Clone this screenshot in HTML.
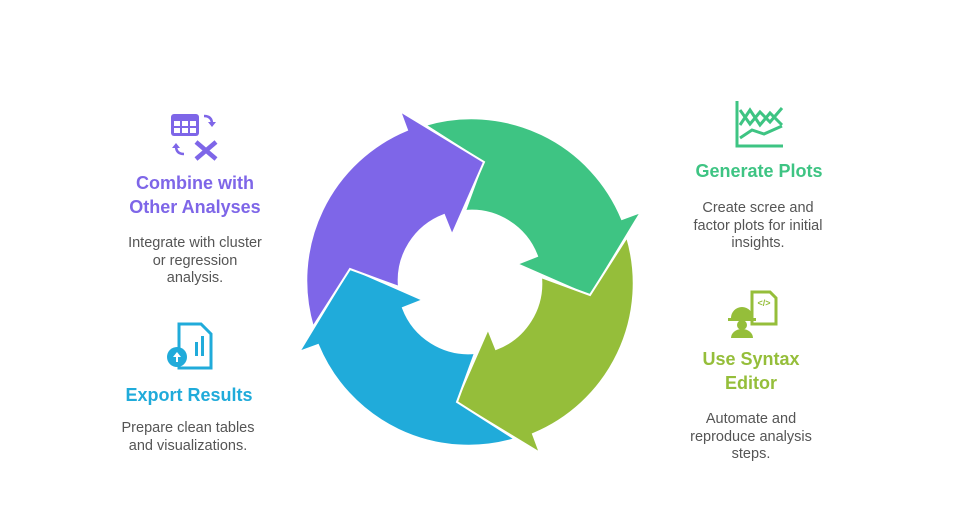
<!DOCTYPE html>
<html><head><meta charset="utf-8"><style>
body{margin:0;background:#fff;width:980px;height:517px;overflow:hidden;position:relative;font-family:"Liberation Sans",sans-serif}
.t{position:absolute;text-align:center;font-weight:bold;font-size:18px;line-height:24px}
.d{position:absolute;text-align:center;font-size:14.5px;line-height:17.5px;color:#555}
</style></head><body>
<svg width="980" height="517" style="position:absolute;left:0;top:0">
<defs><path id="ar" d="M-45,-157 A163,163 0 0 1 152,-63 L171,-70 L120,14 L47,-18 L67,-26 A70,70 0 0 0 -5,-71 L13,-120 Z" stroke="#fff" stroke-width="2" stroke-linejoin="miter"/></defs>
<g transform="translate(470,282)">
<use href="#ar" fill="#3EC483"/>
<use href="#ar" fill="#95BE3A" transform="rotate(90)"/>
<use href="#ar" fill="#20ABDA" transform="rotate(180)"/>
<use href="#ar" fill="#7E66E8" transform="rotate(270)"/>
</g>
<g fill="#7E66E8">
<rect x="171" y="114" width="28" height="22" rx="3"/>
<g fill="#fff"><rect x="174" y="121" width="6" height="5"/><rect x="182" y="121" width="6" height="5"/><rect x="190" y="121" width="6" height="5"/><rect x="174" y="128" width="6" height="5"/><rect x="182" y="128" width="6" height="5"/><rect x="190" y="128" width="6" height="5"/></g>
</g>
<path d="M196,142 l20,17 M216,142 l-20,17" stroke="#7E66E8" stroke-width="4.5"/>
<path d="M204,116 q8,0 8,8" stroke="#7E66E8" stroke-width="2.5" fill="none"/><path d="M208,122 l4,5 l4,-5z" fill="#7E66E8"/>
<path d="M184,154 q-8,0 -8,-8" stroke="#7E66E8" stroke-width="2.5" fill="none"/><path d="M172,148 l4,-5 l4,5z" fill="#7E66E8"/>
<g><path d="M179,324 h22 l10,10 v34 h-32z" fill="none" stroke="#20ABDA" stroke-width="3"/>
<rect x="195" y="342" width="3" height="14" fill="#20ABDA"/><rect x="201" y="336" width="3" height="20" fill="#20ABDA"/>
<circle cx="177" cy="357" r="10" fill="#20ABDA"/><path d="M177,352 l-4,5 h3 v5 h2 v-5 h3z" fill="#fff"/></g>
<g stroke="#3EC483" stroke-width="3" fill="none"><path d="M737,101 v45 h46"/><path d="M740,110 l10,14 l10,-12 l10,10 l12,-14"/><path d="M740,125 l10,-15 l10,15 l10,-12 l12,12"/><path d="M740,138 l12,-8 l12,4 l18,-8"/></g>
<g><path d="M752,292 h18 l6,6 v26 h-24z" fill="none" stroke="#95BE3A" stroke-width="3"/>
<text x="764" y="306" font-size="9" font-weight="bold" fill="#95BE3A" text-anchor="middle">&lt;/&gt;</text>
<path d="M731,318 a11,11 0 0 1 22,0z" fill="#95BE3A"/><rect x="728" y="318" width="28" height="3" fill="#95BE3A"/>
<circle cx="742" cy="325" r="5" fill="#95BE3A"/><path d="M731,338 a11,9 0 0 1 22,0z" fill="#95BE3A"/></g>
</svg>
<div class="t" style="left:95px;width:200px;top:171px;color:#7E66E8">Combine with<br>Other Analyses</div>
<div class="d" style="left:95px;width:200px;top:235px">Integrate with cluster<br>or regression<br>analysis.</div>
<div class="t" style="left:89px;width:200px;top:383px;color:#20ABDA">Export Results</div>
<div class="d" style="left:88px;width:200px;top:420px">Prepare clean tables<br>and visualizations.</div>
<div class="t" style="left:659px;width:200px;top:159px;color:#3EC483">Generate Plots</div>
<div class="d" style="left:658px;width:200px;top:200px">Create scree and<br>factor plots for initial<br>insights.</div>
<div class="t" style="left:651px;width:200px;top:347px;color:#95BE3A">Use Syntax<br>Editor</div>
<div class="d" style="left:651px;width:200px;top:411px">Automate and<br>reproduce analysis<br>steps.</div>
</body></html>
